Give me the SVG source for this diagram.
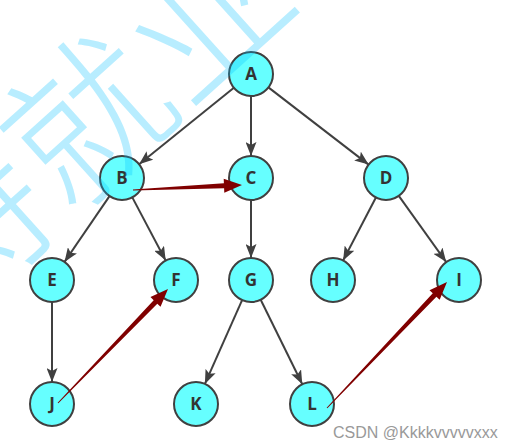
<svg xmlns="http://www.w3.org/2000/svg" width="515" height="448" viewBox="0 0 515 448">
  <defs>
    <marker id="ah" markerUnits="userSpaceOnUse" markerWidth="15" markerHeight="11" refX="14" refY="5.5" orient="auto">
      <path d="M0,0 L14,5.5 L0,11 L3,5.5 z" fill="#404040"/>
    </marker>
  </defs>
  <style>
    .edge { stroke: #404040; stroke-width: 2; fill: none; marker-end: url(#ah); }
    .node circle { fill: #66ffff; stroke: #404040; stroke-width: 2; }
    .node text { font-family: "Open Sans", "DejaVu Sans", sans-serif; font-weight: bold; font-size: 17px; fill: #333333; text-anchor: middle; }
    .red { fill: #800000; }
    .wm { font-family: "Noto Sans CJK SC", sans-serif; font-weight: 300; font-size: 160px; fill: #00bfff; fill-opacity: 0.28; text-anchor: middle; }
    .credit { font-family: "Liberation Sans", Arial, sans-serif; font-size: 16px; fill: #999999; }
  </style>
  <rect width="515" height="448" fill="#ffffff"/>
  <g id="connectors">
    <line class="edge" x1="233.9" y1="87.8" x2="139.1" y2="164.2"/>
    <line class="edge" x1="251" y1="96" x2="251" y2="156"/>
    <line class="edge" x1="268.4" y1="87.4" x2="368.6" y2="164.6"/>
    <line class="edge" x1="109.5" y1="196.1" x2="64.5" y2="261.9"/>
    <line class="edge" x1="132.3" y1="197.4" x2="165.7" y2="260.6"/>
    <line class="edge" x1="251" y1="200" x2="251" y2="258"/>
    <line class="edge" x1="375.9" y1="197.5" x2="343.1" y2="260.5"/>
    <line class="edge" x1="398.8" y1="195.9" x2="446.2" y2="262.1"/>
    <line class="edge" x1="52" y1="302" x2="52" y2="382"/>
    <line class="edge" x1="242.1" y1="300.1" x2="204.9" y2="383.9"/>
    <line class="edge" x1="260.7" y1="299.7" x2="302.3" y2="384.3"/>
  </g>
  <g id="node-A" class="node"><circle cx="251" cy="74" r="22"/><text x="251" y="80">A</text></g>
  <g id="node-B" class="node"><circle cx="122" cy="178" r="22"/><text x="122" y="184">B</text></g>
  <g id="node-C" class="node"><circle cx="251" cy="178" r="22"/><text x="251" y="184">C</text></g>
  <g id="node-D" class="node"><circle cx="386" cy="178" r="22"/><text x="386" y="184">D</text></g>
  <g id="node-E" class="node"><circle cx="52" cy="280" r="22"/><text x="52" y="286">E</text></g>
  <g id="node-F" class="node"><circle cx="176" cy="280" r="22"/><text x="176" y="286">F</text></g>
  <g id="node-G" class="node"><circle cx="251" cy="280" r="22"/><text x="251" y="286">G</text></g>
  <g id="node-H" class="node"><circle cx="333" cy="280" r="22"/><text x="333" y="286">H</text></g>
  <g id="node-I" class="node"><circle cx="459" cy="280" r="22"/><text x="459" y="286">I</text></g>
  <g id="node-J" class="node"><circle cx="52" cy="404" r="22"/><text x="52" y="410">J</text></g>
  <g id="node-K" class="node"><circle cx="196" cy="404" r="22"/><text x="196" y="410">K</text></g>
  <g id="node-L" class="node"><circle cx="312" cy="404" r="22"/><text x="312" y="410">L</text></g>
  <g id="red-arrows">
    <polygon class="red" points="133.02,190.5 224.1,188.3 224.3,192.8 242,185 223.7,178.8 223.9,183.3 132.98,189.5"/>
    <polygon class="red" points="58.36,403.35 157.3,303.7 160.54,306.81 168,289 150.46,297.09 153.7,300.2 57.64,402.65"/>
    <polygon class="red" points="327.36,408.34 436.4,296.75 439.66,299.86 447,282 429.52,290.2 432.78,293.31 326.64,407.66"/>
  </g>
  <text class="wm" transform="translate(80,112) rotate(-42)" dominant-baseline="central">持就业</text>
  <text class="credit" x="333" y="438">CSDN @Kkkkvvvvvxxx</text>
</svg>
